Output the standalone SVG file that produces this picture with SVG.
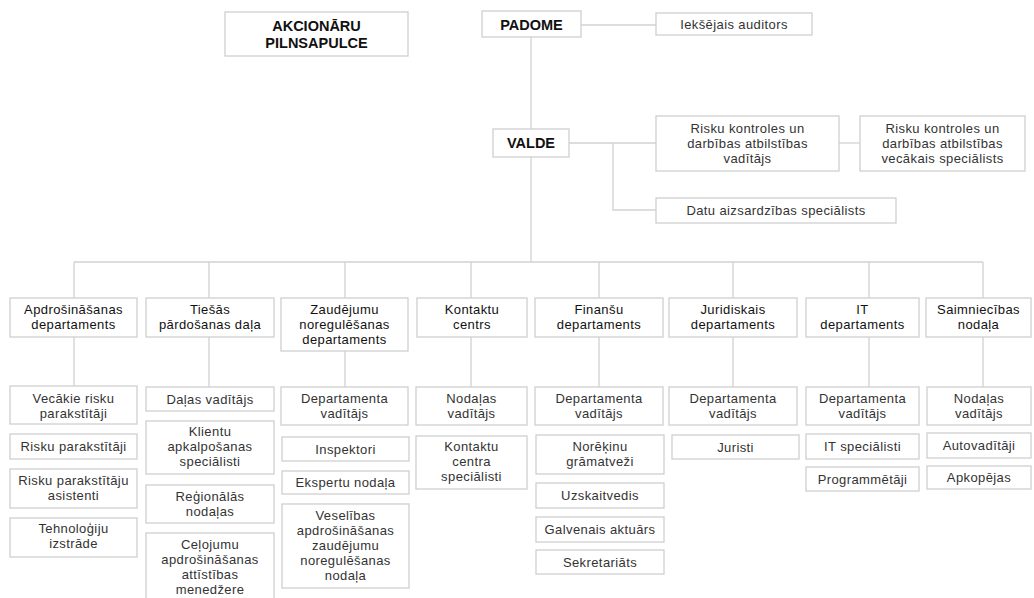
<svg xmlns="http://www.w3.org/2000/svg" width="1034" height="598" viewBox="0 0 1034 598">
<style>
.bx{fill:#fff;stroke:#cfcfcf;stroke-width:1.3}
.ln{fill:none;stroke:#d2d2d2;stroke-width:1.3}
.t{font-family:"Liberation Sans","Open Sans",sans-serif;font-size:13px;letter-spacing:0.4px;fill:#333;text-anchor:middle}
.d{font-family:"Liberation Sans","Open Sans",sans-serif;font-size:13px;letter-spacing:0.4px;fill:#111;text-anchor:middle}
.b{font-family:"Liberation Sans","Open Sans",sans-serif;font-size:14.5px;font-weight:bold;fill:#111;text-anchor:middle}
</style>
<rect width="1034" height="598" fill="#fff"/>
<g id="connectors" class="ln">
<path d="M581 25H656"/>
<path d="M531 37V129"/>
<path d="M569 143H656"/>
<path d="M839 143H860"/>
<path d="M613 143V210H656"/>
<path d="M531 157V262"/>
<path d="M74 262H983"/>
<path d="M74 262V298M209 262V298M345 262V298M471 262V298M599 262V298M733 262V298M869 262V298M983 262V298"/>
<path d="M74 337V386M209 337V387M345 351V387M471 337V387M599 337V387M733 337V387M869 337V387M983 337V387"/>
</g>
<g id="akcionaru"><rect class="bx" x="225" y="12" width="183" height="44"/><text class="b" x="316.5" y="31">AKCIONĀRU</text><text class="b" x="316.5" y="48">PILNSAPULCE</text></g>
<g id="padome"><rect class="bx" x="482" y="11" width="99" height="26"/><text class="b" x="531.5" y="29.5">PADOME</text></g>
<g id="iekssejais"><rect class="bx" x="656" y="13" width="156" height="22"/><text class="t" x="734" y="28.5">Iekšējais auditors</text></g>
<g id="valde"><rect class="bx" x="493" y="129" width="76" height="28"/><text class="b" x="531" y="148">VALDE</text></g>
<g id="risku1"><rect class="bx" x="656" y="116" width="183" height="55"/><text class="t" x="747.5" y="132.5">Risku kontroles un</text><text class="t" x="747.5" y="147.5">darbības atbilstības</text><text class="t" x="747.5" y="163">vadītājs</text></g>
<g id="risku2"><rect class="bx" x="860" y="116" width="165" height="55"/><text class="t" x="942.5" y="132.5">Risku kontroles un</text><text class="t" x="942.5" y="147.5">darbības atbilstības</text><text class="t" x="942.5" y="163">vecākais speciālists</text></g>
<g id="datu"><rect class="bx" x="656" y="198" width="240" height="25"/><text class="t" x="776" y="214.5">Datu aizsardzības speciālists</text></g>

<g id="dep1"><rect class="bx" x="10" y="298" width="127" height="39"/><text class="d" x="73.5" y="314">Apdrošināšanas</text><text class="d" x="73.5" y="329">departaments</text></g>
<g id="dep2"><rect class="bx" x="146" y="298" width="128" height="39"/><text class="d" x="210" y="314">Tiešās</text><text class="d" x="210" y="329">pārdošanas daļa</text></g>
<g id="dep3"><rect class="bx" x="281" y="298" width="127" height="53"/><text class="d" x="344.5" y="313.5">Zaudējumu</text><text class="d" x="344.5" y="328.5">noregulēšanas</text><text class="d" x="344.5" y="343.5">departaments</text></g>
<g id="dep4"><rect class="bx" x="417" y="298" width="110" height="39"/><text class="d" x="472" y="314">Kontaktu</text><text class="d" x="472" y="329">centrs</text></g>
<g id="dep5"><rect class="bx" x="535" y="298" width="128" height="39"/><text class="d" x="599" y="314">Finanšu</text><text class="d" x="599" y="329">departaments</text></g>
<g id="dep6"><rect class="bx" x="669" y="298" width="128" height="39"/><text class="d" x="733" y="314">Juridiskais</text><text class="d" x="733" y="329">departaments</text></g>
<g id="dep7"><rect class="bx" x="806" y="298" width="113" height="39"/><text class="d" x="862.5" y="314">IT</text><text class="d" x="862.5" y="329">departaments</text></g>
<g id="dep8"><rect class="bx" x="926" y="298" width="105" height="39"/><text class="d" x="978.5" y="314">Saimniecības</text><text class="d" x="978.5" y="329">nodaļa</text></g>

<g id="c1a"><rect class="bx" x="10" y="386" width="127" height="38"/><text class="t" x="73.5" y="402.5">Vecākie risku</text><text class="t" x="73.5" y="417.5">parakstītāji</text></g>
<g id="c1b"><rect class="bx" x="10" y="434" width="127" height="25"/><text class="t" x="73.5" y="451">Risku parakstītāji</text></g>
<g id="c1c"><rect class="bx" x="10" y="469" width="127" height="39"/><text class="t" x="73.5" y="484.5">Risku parakstītāju</text><text class="t" x="73.5" y="499.5">asistenti</text></g>
<g id="c1d"><rect class="bx" x="10" y="518" width="127" height="39"/><text class="t" x="73.5" y="533">Tehnoloģiju</text><text class="t" x="73.5" y="548">izstrāde</text></g>

<g id="c2a"><rect class="bx" x="146" y="387" width="128" height="24"/><text class="t" x="210" y="403.5">Daļas vadītājs</text></g>
<g id="c2b"><rect class="bx" x="146" y="421" width="128" height="53"/><text class="t" x="210" y="436">Klientu</text><text class="t" x="210" y="451">apkalpošanas</text><text class="t" x="210" y="466">speciālisti</text></g>
<g id="c2c"><rect class="bx" x="146" y="485" width="128" height="38"/><text class="t" x="210" y="500.5">Reģionālās</text><text class="t" x="210" y="515.5">nodaļas</text></g>
<g id="c2d"><rect class="bx" x="146" y="533" width="128" height="75"/><text class="t" x="210" y="549">Ceļojumu</text><text class="t" x="210" y="564">apdrošināšanas</text><text class="t" x="210" y="579">attīstības</text><text class="t" x="210" y="594">menedžere</text></g>

<g id="c3a"><rect class="bx" x="281" y="387" width="127" height="38"/><text class="t" x="344.5" y="402.5">Departamenta</text><text class="t" x="344.5" y="417.5">vadītājs</text></g>
<g id="c3b"><rect class="bx" x="282" y="437" width="127" height="24"/><text class="t" x="345.5" y="453.5">Inspektori</text></g>
<g id="c3c"><rect class="bx" x="282" y="471" width="127" height="23"/><text class="t" x="345.5" y="487">Ekspertu nodaļa</text></g>
<g id="c3d"><rect class="bx" x="282" y="504" width="127" height="84"/><text class="t" x="345.5" y="519.5">Veselības</text><text class="t" x="345.5" y="534.5">apdrošināšanas</text><text class="t" x="345.5" y="549.5">zaudējumu</text><text class="t" x="345.5" y="564.5">noregulēšanas</text><text class="t" x="345.5" y="579.5">nodaļa</text></g>

<g id="c4a"><rect class="bx" x="416" y="387" width="111" height="38"/><text class="t" x="471.5" y="402.5">Nodaļas</text><text class="t" x="471.5" y="417.5">vadītājs</text></g>
<g id="c4b"><rect class="bx" x="416" y="436" width="111" height="53"/><text class="t" x="471.5" y="450.5">Kontaktu</text><text class="t" x="471.5" y="465.5">centra</text><text class="t" x="471.5" y="480.5">speciālisti</text></g>

<g id="c5a"><rect class="bx" x="535" y="387" width="128" height="38"/><text class="t" x="599" y="402.5">Departamenta</text><text class="t" x="599" y="417.5">vadītājs</text></g>
<g id="c5b"><rect class="bx" x="536" y="435" width="128" height="39"/><text class="t" x="600" y="450.5">Norēķinu</text><text class="t" x="600" y="465.5">grāmatveži</text></g>
<g id="c5c"><rect class="bx" x="536" y="483" width="128" height="25"/><text class="t" x="600" y="500">Uzskaitvedis</text></g>
<g id="c5d"><rect class="bx" x="536" y="517" width="128" height="25"/><text class="t" x="600" y="534">Galvenais aktuārs</text></g>
<g id="c5e"><rect class="bx" x="536" y="550" width="128" height="24"/><text class="t" x="600" y="566.5">Sekretariāts</text></g>

<g id="c6a"><rect class="bx" x="669" y="387" width="128" height="38"/><text class="t" x="733" y="402.5">Departamenta</text><text class="t" x="733" y="417.5">vadītājs</text></g>
<g id="c6b"><rect class="bx" x="672" y="435" width="127" height="24"/><text class="t" x="735.5" y="451.5">Juristi</text></g>

<g id="c7a"><rect class="bx" x="806" y="387" width="113" height="38"/><text class="t" x="862.5" y="402.5">Departamenta</text><text class="t" x="862.5" y="417.5">vadītājs</text></g>
<g id="c7b"><rect class="bx" x="806" y="434" width="113" height="25"/><text class="t" x="862.5" y="451">IT speciālisti</text></g>
<g id="c7c"><rect class="bx" x="806" y="467" width="113" height="24"/><text class="t" x="862.5" y="483.5">Programmētāji</text></g>

<g id="c8a"><rect class="bx" x="927" y="387" width="104" height="38"/><text class="t" x="979" y="402.5">Nodaļas</text><text class="t" x="979" y="417.5">vadītājs</text></g>
<g id="c8b"><rect class="bx" x="927" y="433" width="104" height="25"/><text class="t" x="979" y="450">Autovadītāji</text></g>
<g id="c8c"><rect class="bx" x="927" y="466" width="104" height="23"/><text class="t" x="979" y="482">Apkopējas</text></g>
</svg>
